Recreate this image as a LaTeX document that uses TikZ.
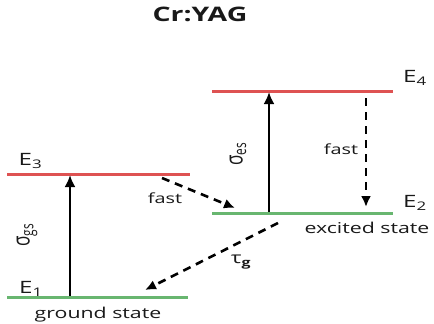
\documentclass[tikz,border=0pt]{standalone}
\usepackage{fontspec}
\setmainfont{Open Sans}
\usetikzlibrary{arrows.meta}
\definecolor{levelred}{RGB}{222,82,82}
\definecolor{levelgreen}{RGB}{104,182,112}
\definecolor{textgray}{RGB}{25,25,25}
\begin{document}
\begin{tikzpicture}[x=10pt,y=-10pt,
    lvl/.style={line width=3pt},
    txt/.style={inner sep=0pt,text=textgray,xscale=1.42,font=\fontsize{15}{17}\selectfont},
    pump/.style={line width=2.8pt,-{Latex[length=12pt,width=11pt]}},
    relax/.style={line width=2.6pt,dash pattern=on 8pt off 6pt,-{Latex[length=11pt,width=10pt]}}]

\useasboundingbox (0,0) rectangle (43.4,32.4);

   \node[txt,font=\bfseries\fontsize{20}{23}\selectfont] at (20.0,1.4) (title) {Cr:YAG};

   % levels
   \coordinate (E1a) at (0.7,29.7);  \coordinate (E1b) at (18.8,29.7);
   \coordinate (E3a) at (0.7,17.4);  \coordinate (E3b) at (19.0,17.4);
   \coordinate (E2a) at (21.2,21.3); \coordinate (E2b) at (39.3,21.3);
   \coordinate (E4a) at (21.2,9.1);  \coordinate (E4b) at (39.3,9.1);

   \draw[lvl,levelgreen] (E1a) -- (E1b);
   \draw[lvl,levelred]   (E3a) -- (E3b);
   \draw[lvl,levelgreen] (E2a) -- (E2b);
   \draw[lvl,levelred]   (E4a) -- (E4b);

   \node[txt,font=\fontsize{17}{20}\selectfont] at (3.05,16.1) (L3) {E\textsubscript{3}};
   \node[txt,font=\fontsize{17}{20}\selectfont] at (3.1,28.9)  (L1) {E\textsubscript{1}};
   \node[txt,font=\fontsize{17}{20}\selectfont] at (41.5,7.8)  (L4) {E\textsubscript{4}};
   \node[txt,font=\fontsize{17}{20}\selectfont] at (41.5,20.3) (L2) {E\textsubscript{2}};

   \node[txt] at (9.8,31.5)  (ground) {ground state};
   \node[txt] at (36.7,22.8) (excited) {excited state};

   % arrows
   \coordinate (gsA) at (7.0,29.6);  \coordinate (gsB) at (7.0,17.5);
   \coordinate (esA) at (26.9,21.2); \coordinate (esB) at (26.9,9.2);
   \draw[pump] (gsA) -- (gsB);
   \draw[pump] (esA) -- (esB);

   \coordinate (f1A) at (16.2,17.8); \coordinate (f1B) at (23.5,20.8);
   \coordinate (tgA) at (27.8,22.3); \coordinate (tgB) at (14.5,29.0);
   \coordinate (f2A) at (36.6,9.8);  \coordinate (f2B) at (36.6,20.7);
   \draw[relax] (f1A) -- (f1B);
   \draw[relax] (tgA) -- (tgB);
   \draw[relax] (f2A) -- (f2B);

   \node[txt,font=\fontsize{14}{16}\selectfont] at (16.5,19.8) (fastL) {fast};
   \node[txt,font=\fontsize{14}{16}\selectfont] at (34.1,14.9) (fastR) {fast};
   \node[txt,rotate=90,font=\fontsize{17}{19}\selectfont] at (2.7,23.5)  (sgs) {σ\textsubscript{gs}};
   \node[txt,rotate=90,font=\fontsize{17}{19}\selectfont] at (23.8,15.4) (ses) {σ\textsubscript{es}};
   \node[txt,font=\fontsize{16}{18}\selectfont] at (24.1,26.2) (tau) {τ\textsubscript{\bfseries g}};

\end{tikzpicture}
\end{document}
